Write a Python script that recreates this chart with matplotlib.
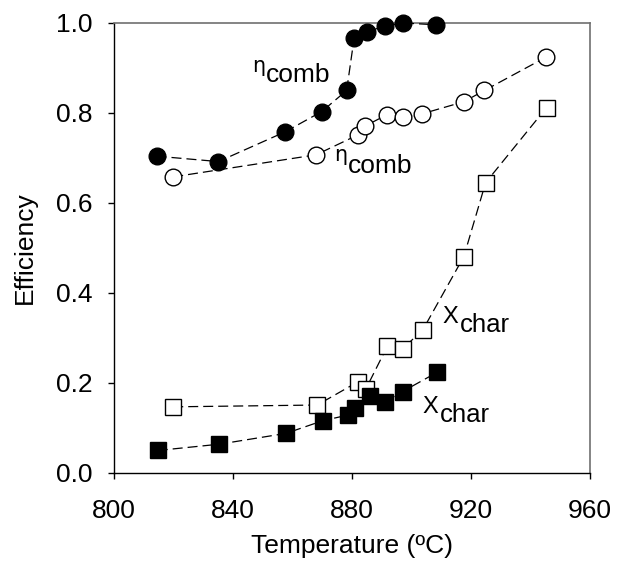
import matplotlib
matplotlib.use('Agg')
import matplotlib.pyplot as plt

plt.rcParams['font.family'] = ['Liberation Sans', 'DejaVu Sans']

# filled circles: combustion efficiency, series 1
t_comb1 = [814.3, 835.1, 857.5, 869.8, 878.2, 880.7, 885.2, 891.1, 897.0, 908.2]
eta_comb1 = [0.704, 0.692, 0.758, 0.803, 0.850, 0.966, 0.981, 0.993, 1.0, 0.996]

# open circles: combustion efficiency, series 2
t_comb2 = [819.9, 867.9, 881.9, 884.4, 891.7, 897.1, 903.5, 917.6, 924.5, 945.2]
eta_comb2 = [0.658, 0.707, 0.751, 0.771, 0.796, 0.792, 0.798, 0.825, 0.850, 0.924]

# open squares: char conversion, series 2
t_char2 = [819.9, 868.3, 882.1, 884.6, 891.9, 897.0, 903.8, 917.6, 924.9, 945.4]
x_char2 = [0.147, 0.151, 0.203, 0.186, 0.282, 0.276, 0.318, 0.481, 0.645, 0.812]

# filled squares: char conversion, series 1
t_char1 = [814.7, 835.4, 857.8, 870.1, 878.8, 881.0, 886.0, 891.1, 897.0, 908.7]
x_char1 = [0.050, 0.064, 0.088, 0.116, 0.129, 0.144, 0.170, 0.158, 0.181, 0.224]

fig = plt.figure(figsize=(6.2, 5.7), dpi=100)
ax = fig.add_axes([0.1839, 0.1702, 0.7677, 0.7895])

dash = (0, (8, 4))
ax.plot(t_comb1, eta_comb1, color='black', lw=0.9, ls=dash, marker='o', ms=12,
        mfc='black', mec='black', mew=1, clip_on=False, zorder=3)
ax.plot(t_comb2, eta_comb2, color='black', lw=0.9, ls=dash, marker='o', ms=12,
        mfc='white', mec='black', mew=1, clip_on=False, zorder=3)
ax.plot(t_char2, x_char2, color='black', lw=0.9, ls=dash, marker='s', ms=11,
        mfc='white', mec='black', mew=1, clip_on=False, zorder=3)
ax.plot(t_char1, x_char1, color='black', lw=0.9, ls=dash, marker='s', ms=11,
        mfc='black', mec='black', mew=1, clip_on=False, zorder=4)

# labels: main symbol plus lowered subscript
ax.text(846.5, 0.891, 'η', fontsize=15, va='baseline', family=['DejaVu Sans'])
ax.text(851.1, 0.869, 'comb', fontsize=19, va='baseline')
ax.text(874.1, 0.693, 'η', fontsize=15, va='baseline', family=['DejaVu Sans'])
ax.text(878.7, 0.667, 'comb', fontsize=19, va='baseline')
ax.text(910.3, 0.334, 'X', fontsize=17, va='baseline')
ax.text(916.3, 0.314, 'char', fontsize=18.5, va='baseline')
ax.text(903.8, 0.133, 'X', fontsize=17, va='baseline')
ax.text(909.6, 0.114, 'char', fontsize=18.5, va='baseline')

ax.set_xlim(800, 960)
ax.set_ylim(0, 1.0)
ax.set_xticks([800, 840, 880, 920, 960])
ax.set_yticks([0.0, 0.2, 0.4, 0.6, 0.8, 1.0])
ax.set_yticklabels(['0.0', '0.2', '0.4', '0.6', '0.8', '1.0'])
ax.tick_params(direction='out', length=4.5, width=1, labelsize=19, colors='black')
ax.tick_params(axis='y', pad=11)
ax.tick_params(axis='x', pad=14)
ax.tick_params(top=False, right=False)

for s in ['top', 'right']:
    ax.spines[s].set_color('#707070')
    ax.spines[s].set_linewidth(1.2)
for s in ['left', 'bottom']:
    ax.spines[s].set_color('black')
    ax.spines[s].set_linewidth(1)

ax.set_xlabel('Temperature (ºC)', fontsize=19, labelpad=8)
ax.set_ylabel('Efficiency', fontsize=19, labelpad=14)

fig.savefig('out.png', dpi=100)
